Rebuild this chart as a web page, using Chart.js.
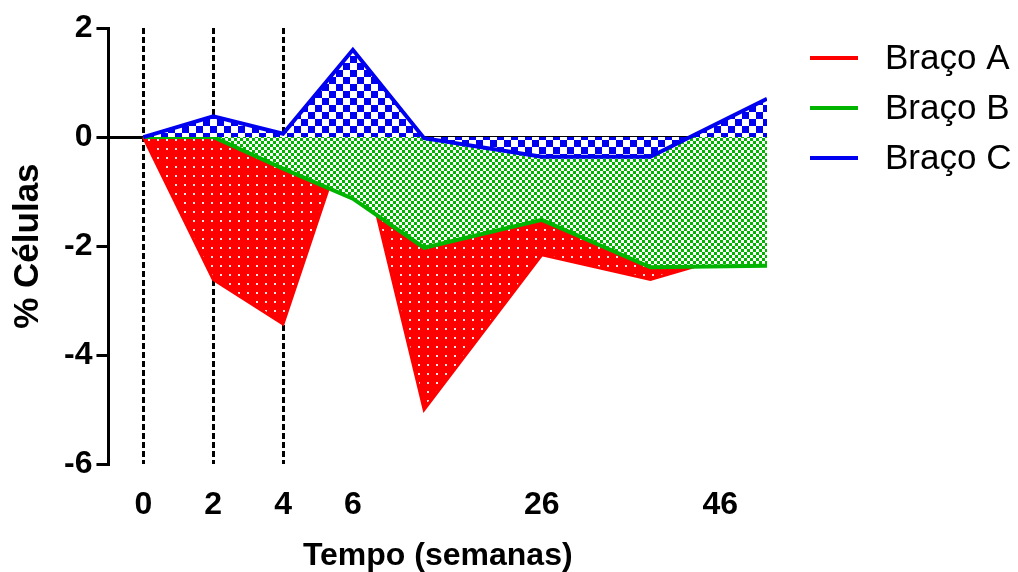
<!DOCTYPE html>
<html>
<head>
<meta charset="utf-8">
<script src="https://cdn.jsdelivr.net/npm/chart.js@4/dist/chart.umd.min.js"></script>
<style>
    html, body { margin: 0; padding: 0; background: #fff; }
</style>
</head>
<body>
<canvas id="grafico" width="1018" height="572"></canvas>
<script>
// posição de cada coleta no eixo x e % de células por braço
const posicoes = [0, 2, 4, 6, 8.04, 11.41, 14.52, 17.86];
const bracoA = [0, -2.61, -3.43, 0.4, -5.0, -2.16, -2.61, -1.99];
const bracoB = [0, 0, -0.58, -1.13, -2.03, -1.52, -2.39, -2.36];
const bracoC = [0, 0.38, 0.06, 1.6, -0.02, -0.36, -0.36, 0.7];

// marcas do eixo x e os rótulos mostrados nelas
const ticksX = [0, 2, 4, 6, 11.41, 16.52];
const rotulosX = ['0', '2', '4', '6', '26', '46'];
// semanas com linha tracejada vertical
const linhasTracejadas = [0, 2, 4];

const nomes = ['Braço A', 'Braço B', 'Braço C'];
const cores = ['#ff0000', '#00b400', '#0000f0'];

// texturas de preenchimento das áreas
function criarTextura(tipo, cor) {
    const c = document.createElement('canvas');
    const g = c.getContext('2d');
    if (tipo === 'pontos') {
        c.width = 9; c.height = 9;
        g.fillStyle = cor;
        g.fillRect(0, 0, 9, 9);
        g.fillStyle = '#ffe6e6';
        g.fillRect(4, 4, 2, 2);
    } else {
        const lado = tipo === 'xadrezFino' ? 3 : 7;
        c.width = lado * 2; c.height = lado * 2;
        g.fillStyle = '#ffffff';
        g.fillRect(0, 0, lado * 2, lado * 2);
        g.fillStyle = cor;
        g.fillRect(0, 0, lado, lado);
        g.fillRect(lado, lado, lado, lado);
    }
    return g.createPattern(c, 'repeat');
}

function serie(valores) {
    return valores.map((v, i) => ({ x: posicoes[i], y: v }));
}

// legenda desenhada à direita do gráfico
const legendaBracos = {
    id: 'legendaBracos',
    afterDraw(chart) {
        const ctx = chart.ctx;
        ctx.save();
        ctx.font = '35px "Liberation Sans", Arial, sans-serif';
        ctx.textBaseline = 'alphabetic';
        chart.data.datasets.forEach(function(ds, i) {
            const y = 58 + i * 50;
            ctx.strokeStyle = ds.borderColor;
            ctx.lineWidth = 4;
            ctx.beginPath();
            ctx.moveTo(810, y);
            ctx.lineTo(858, y);
            ctx.stroke();
            ctx.fillStyle = '#000';
            ctx.fillText(ds.label, 885, y + 11);
        });
        ctx.restore();
    }
};

Chart.defaults.font.family = '"Liberation Sans", Arial, sans-serif';
Chart.defaults.color = '#000';

const ctx = document.getElementById('grafico').getContext('2d');

new Chart(ctx, {
    type: 'line',
    data: {
        datasets: [{
            label: nomes[0],
            data: serie(bracoA),
            borderColor: cores[0],
            backgroundColor: criarTextura('pontos', cores[0]),
            borderWidth: 3,
            fill: 'origin',
            order: 3
        }, {
            label: nomes[1],
            data: serie(bracoB),
            borderColor: cores[1],
            backgroundColor: criarTextura('xadrezFino', cores[1]),
            borderWidth: 4,
            fill: 'origin',
            order: 2
        }, {
            label: nomes[2],
            data: serie(bracoC),
            borderColor: cores[2],
            backgroundColor: criarTextura('xadrezGrosso', cores[2]),
            borderWidth: 4,
            fill: 'origin',
            order: 1
        }]
    },
    options: {
        responsive: false,
        animation: false,
        devicePixelRatio: 1,
        elements: {
            point: { radius: 0 },
            line: { tension: 0 }
        },
        layout: {
            padding: { left: 2, right: 251, top: 28, bottom: 0 }
        },
        plugins: {
            legend: { display: false },
            tooltip: { enabled: false }
        },
        scales: {
            x: {
                type: 'linear',
                min: -1,
                max: 17.86,
                afterBuildTicks: function(scale) {
                    scale.ticks = ticksX.map(v => ({ value: v }));
                },
                ticks: {
                    autoSkip: false,
                    maxRotation: 0,
                    padding: 22,
                    font: { size: 32, weight: 'bold' },
                    callback: function(value, index) {
                        return rotulosX[index];
                    }
                },
                grid: {
                    drawTicks: false,
                    lineWidth: 3,
                    color: function(c) {
                        return c.tick && linhasTracejadas.includes(c.tick.value) ? '#000' : 'rgba(0,0,0,0)';
                    }
                },
                border: { display: false, dash: [6, 3] },
                title: {
                    display: true,
                    text: 'Tempo (semanas)',
                    font: { size: 32, weight: 'bold' },
                    padding: { top: -10, bottom: -3 }
                }
            },
            y: {
                min: -6,
                max: 2,
                ticks: {
                    stepSize: 2,
                    padding: 4,
                    font: { size: 32, weight: 'bold' }
                },
                grid: {
                    lineWidth: 3,
                    tickLength: 12,
                    tickWidth: 3,
                    tickColor: '#000',
                    color: function(c) {
                        return c.tick && c.tick.value === 0 ? '#000' : 'rgba(0,0,0,0)';
                    }
                },
                border: { display: true, color: '#000', width: 3 },
                title: {
                    display: true,
                    text: '% Células',
                    font: { size: 35, weight: 'bold' },
                    padding: { top: 5, bottom: 11 }
                }
            }
        }
    },
    plugins: [legendaBracos]
});
</script>
</body>
</html>
